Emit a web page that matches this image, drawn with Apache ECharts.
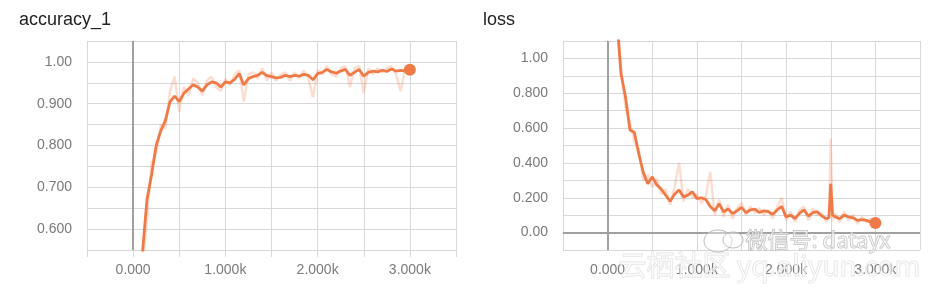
<!DOCTYPE html>
<html><head><meta charset="utf-8">
<script src="https://cdn.jsdelivr.net/npm/echarts@6/dist/echarts.min.js"></script>
<style>html,body{margin:0;padding:0;background:#fff}#c{width:934px;height:294px}</style>
</head><body><div id="c"></div>
<script>
var accSteps = [100,150,200,250,300,350,400,450,500,550,600,650,700,750,800,850,900,950,1000,1050,1100,1150,1200,1250,1300,1350,1400,1450,1500,1550,1600,1650,1700,1750,1800,1850,1900,1950,2000,2050,2100,2150,2200,2250,2300,2350,2400,2450,2500,2550,2600,2650,2700,2750,2800,2850,2900,2950,3000];
var accSmooth = [0.54,0.67,0.73,0.80,0.835,0.86,0.905,0.918,0.905,0.925,0.935,0.945,0.94,0.93,0.945,0.952,0.95,0.94,0.952,0.95,0.958,0.972,0.945,0.96,0.965,0.968,0.975,0.967,0.965,0.962,0.963,0.968,0.965,0.968,0.966,0.97,0.968,0.957,0.972,0.975,0.982,0.976,0.973,0.978,0.982,0.968,0.975,0.982,0.966,0.975,0.978,0.976,0.98,0.977,0.983,0.978,0.98,0.978,0.981];
var accRaw = [0.50,0.62,0.76,0.78,0.85,0.84,0.93,0.965,0.88,0.94,0.92,0.96,0.95,0.92,0.955,0.965,0.94,0.93,0.96,0.945,0.97,0.98,0.905,0.97,0.975,0.96,0.985,0.955,0.975,0.955,0.97,0.975,0.955,0.975,0.96,0.98,0.96,0.915,0.98,0.97,0.99,0.97,0.965,0.985,0.99,0.94,0.985,0.99,0.925,0.985,0.97,0.985,0.975,0.985,0.99,0.97,0.93,0.985,0.98];

var lossSteps = [100,150,200,250,300,350,400,450,500,550,600,650,700,750,800,850,900,950,1000,1050,1100,1150,1200,1250,1300,1350,1400,1450,1500,1550,1600,1650,1700,1750,1800,1850,1900,1950,2000,2050,2100,2150,2200,2250,2300,2350,2400,2450,2480,2500,2520,2550,2600,2650,2700,2750,2800,2850,2900,2950,3000];
var lossSmooth = [1.25,0.91,0.78,0.59,0.575,0.45,0.345,0.28,0.32,0.275,0.25,0.215,0.18,0.22,0.245,0.205,0.215,0.235,0.195,0.2,0.19,0.15,0.125,0.165,0.12,0.135,0.11,0.125,0.145,0.115,0.13,0.135,0.115,0.125,0.12,0.105,0.13,0.15,0.09,0.1,0.08,0.11,0.13,0.095,0.115,0.12,0.095,0.08,0.085,0.28,0.1,0.09,0.08,0.1,0.09,0.085,0.07,0.075,0.07,0.06,0.055];
var lossRaw = [1.3,0.95,0.72,0.63,0.52,0.48,0.30,0.33,0.26,0.31,0.22,0.25,0.16,0.26,0.40,0.18,0.25,0.2,0.22,0.17,0.21,0.35,0.1,0.19,0.09,0.16,0.08,0.14,0.17,0.1,0.15,0.11,0.14,0.1,0.13,0.08,0.15,0.2,0.07,0.12,0.06,0.13,0.15,0.07,0.14,0.1,0.11,0.06,0.1,0.54,0.07,0.11,0.06,0.12,0.07,0.1,0.05,0.09,0.06,0.08,0.055];

var xTickLabels = {0:'0.000',1000:'1.000k',2000:'2.000k',3000:'3.000k'};
var titles = ['accuracy_1','loss'];

function pairs(xs, ys){ return xs.map(function(x,i){return [x, ys[i]];}); }

var ORANGE = '#f07a47';
var RAW = 'rgba(240,122,71,0.25)';
var GRIDC = '#d8d8d8';
var LABELC = '#7a7a7a';
var FONT = '"Liberation Sans", Arial, sans-serif';

function xAxisDef(gi){
  return {
    gridIndex: gi, type:'value', min:-500, max:3500, interval:500,
    axisLine:{show:true, lineStyle:{color:GRIDC, width:1}},
    axisTick:{show:true, length:7, lineStyle:{color:GRIDC}},
    splitLine:{show:true, lineStyle:{color:GRIDC, width:1}},
    axisLabel:{color:LABELC, fontSize:14, fontFamily:FONT, margin:13,
      showMinLabel:true, showMaxLabel:true,
      formatter:function(v){ return xTickLabels.hasOwnProperty(v) ? xTickLabels[v] : ''; }}
  };
}

var option = {
  animation:false,
  backgroundColor:'#fff',
  title:[
    {text:titles[0], left:14, top:6, textStyle:{fontSize:18, fontWeight:'normal', color:'#222', fontFamily:FONT}},
    {text:titles[1], left:478, top:6, textStyle:{fontSize:18, fontWeight:'normal', color:'#222', fontFamily:FONT}}
  ],
  grid:[
    {left:87, right:478, top:41, bottom:44},
    {left:563, right:14, top:41, bottom:44}
  ],
  xAxis:[xAxisDef(0), xAxisDef(1)],
  yAxis:[
    {gridIndex:0, type:'value', min:0.55, max:1.05, interval:0.05,
     axisLine:{show:true, lineStyle:{color:GRIDC}},
     axisTick:{show:true, length:7, lineStyle:{color:GRIDC}},
     splitLine:{show:true, lineStyle:{color:GRIDC}},
     axisLabel:{color:LABELC, fontSize:14, fontFamily:FONT, margin:15,
       formatter:function(v){ var k=Math.round(v*100); if(k%10!==0) return ''; if(k===100) return '1.00'; return (k/100).toFixed(3);} }},
    {gridIndex:1, type:'value', min:-0.1, max:1.1, interval:0.1,
     axisLine:{show:true, lineStyle:{color:GRIDC}},
     axisTick:{show:true, length:7, lineStyle:{color:GRIDC}},
     splitLine:{show:true, lineStyle:{color:GRIDC}},
     axisLabel:{color:LABELC, fontSize:14, fontFamily:FONT, margin:15,
       formatter:function(v){ var k=Math.round(v*10); if(k<0||k%2!==0) return ''; if(k===0) return '0.00'; if(k===10) return '1.00'; return (k/10).toFixed(3);} }}
  ],
  series:[
    {type:'line', xAxisIndex:0, yAxisIndex:0, data:pairs(accSteps, accRaw), showSymbol:false, clip:true, z:1,
     lineStyle:{color:RAW, width:2.5},
     markLine:{silent:true, symbol:'none', label:{show:false}, lineStyle:{color:'#a0a0a0', width:2, type:'solid'}, data:[{xAxis:0}]}},
    {type:'line', xAxisIndex:0, yAxisIndex:0, data:pairs(accSteps, accSmooth), showSymbol:false, clip:true, z:3,
     lineStyle:{color:ORANGE, width:2.8}},
    {type:'scatter', xAxisIndex:0, yAxisIndex:0, data:[[accSteps[accSteps.length-1], accSmooth[accSmooth.length-1]]], symbolSize:12, z:4,
     itemStyle:{color:ORANGE, opacity:1}},
    {type:'line', xAxisIndex:1, yAxisIndex:1, data:pairs(lossSteps, lossRaw), showSymbol:false, clip:true, z:1,
     lineStyle:{color:RAW, width:2.5},
     markLine:{silent:true, symbol:'none', label:{show:false}, lineStyle:{color:'#a0a0a0', width:2, type:'solid'}, data:[{xAxis:0},{yAxis:0}]}},
    {type:'line', xAxisIndex:1, yAxisIndex:1, data:pairs(lossSteps, lossSmooth), showSymbol:false, clip:true, z:3,
     lineStyle:{color:ORANGE, width:2.8}},
    {type:'scatter', xAxisIndex:1, yAxisIndex:1, data:[[lossSteps[lossSteps.length-1], lossSmooth[lossSmooth.length-1]]], symbolSize:12, z:4,
     itemStyle:{color:ORANGE, opacity:1}}
  ],
  graphic:[
    {type:'text', left:745, top:228, z:100, silent:true,
     style:{text:'微信号: datayx', font:'22px "Noto Sans CJK SC", sans-serif', fill:'rgba(255,255,255,0.55)', stroke:'#b8b8b8', lineWidth:1}},
    {type:'text', left:618, top:251, z:100, silent:true,
     style:{text:'云栖社区 yq.aliyun.com', font:'28px "Noto Sans CJK SC", sans-serif', fill:'rgba(255,255,255,0.45)', stroke:'#e2e2e2', lineWidth:1}},
    {type:'ellipse', z:100, silent:true, shape:{cx:718, cy:241, rx:14, ry:11}, style:{fill:'rgba(255,255,255,0.4)', stroke:'#bbb', lineWidth:1}},
    {type:'ellipse', z:100, silent:true, shape:{cx:733, cy:240, rx:10, ry:8}, style:{fill:'rgba(255,255,255,0.4)', stroke:'#bbb', lineWidth:1}}
  ]
};
var chart = echarts.init(document.getElementById('c'), null, {renderer:'canvas'});
chart.setOption(option);
</script></body></html>
